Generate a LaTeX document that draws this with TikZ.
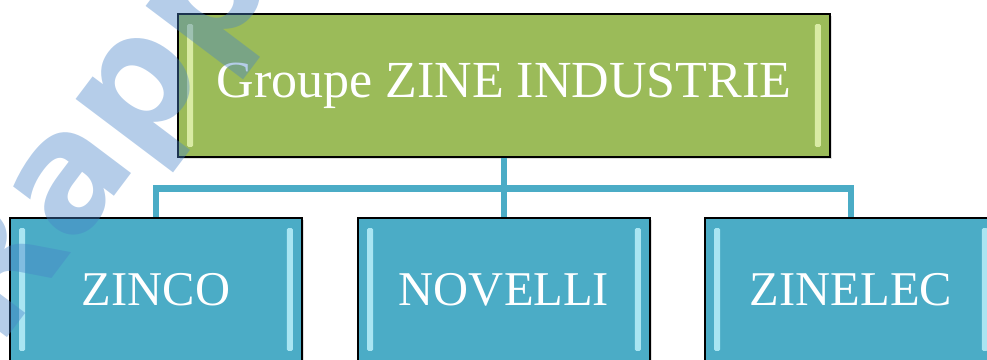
\documentclass[tikz,border=0pt]{standalone}
\usepackage{fontspec}
\setmainfont{Liberation Serif}
\setsansfont{DejaVu Sans}
\usetikzlibrary{shadows}

\definecolor{zinegreen}{RGB}{155,187,89}
\definecolor{zineblue}{RGB}{75,172,198}
\definecolor{greenbevel}{RGB}{228,244,178}
\definecolor{bluebevel}{RGB}{186,240,250}
\definecolor{stampblue}{RGB}{70,130,200}

\begin{document}
\begin{tikzpicture}[x=0.025cm, y=-0.025cm,
company/.style={draw=black, line width=1.2pt, inner sep=0pt, text=white,
  drop shadow={shadow xshift=1.5pt, shadow yshift=-1.5pt, opacity=.25}},
holding/.style={company, fill=zinegreen, minimum width=16.3cm, minimum height=3.575cm,
  font=\fontsize{37}{40}\selectfont},
branch/.style={company, fill=zineblue, minimum width=7.3cm, minimum height=3.575cm,
  font=\fontsize{34.5}{38}\selectfont},
link/.style={draw=zineblue, line width=4.8pt, line join=miter}]

\useasboundingbox (0,0) rectangle (987,360);
\clip (0,0) rectangle (987,360);

% holding and its three companies
\node[holding] (groupe) at (504,85.5) {Groupe ZINE INDUSTRIE};
\node[branch] (zinco) at (156,289.5) {ZINCO};
\node[branch] (novelli) at (504,289.5) {NOVELLI};
\node[branch] (zinelec) at (851,289.5) {ZINELEC};

% light edges on the boxes
\foreach \n/\c in {groupe/greenbevel, zinco/bluebevel, novelli/bluebevel, zinelec/bluebevel} {
  \fill[\c, opacity=.85, rounded corners=1pt] ([shift={(10,11)}]\n.north west) rectangle ([shift={(16,-11)}]\n.south west);
  \fill[\c, opacity=.85, rounded corners=1pt] ([shift={(-16,11)}]\n.north east) rectangle ([shift={(-10,-11)}]\n.south east);
}

% tree lines
\draw[link] (groupe.south) -- ++(0,31) coordinate (bus);
\draw[link] (zinco.north) |- (bus) -| (zinelec.north);
\draw[link] (bus) -- (novelli.north);

\node[rotate=53, anchor=base west, inner sep=0pt, text=stampblue, opacity=.4,
  font=\sffamily\bfseries\fontsize{115}{115}\selectfont] (stamp) at (-2,350) {Rapport-gratuit.com};
\end{tikzpicture}
\end{document}
